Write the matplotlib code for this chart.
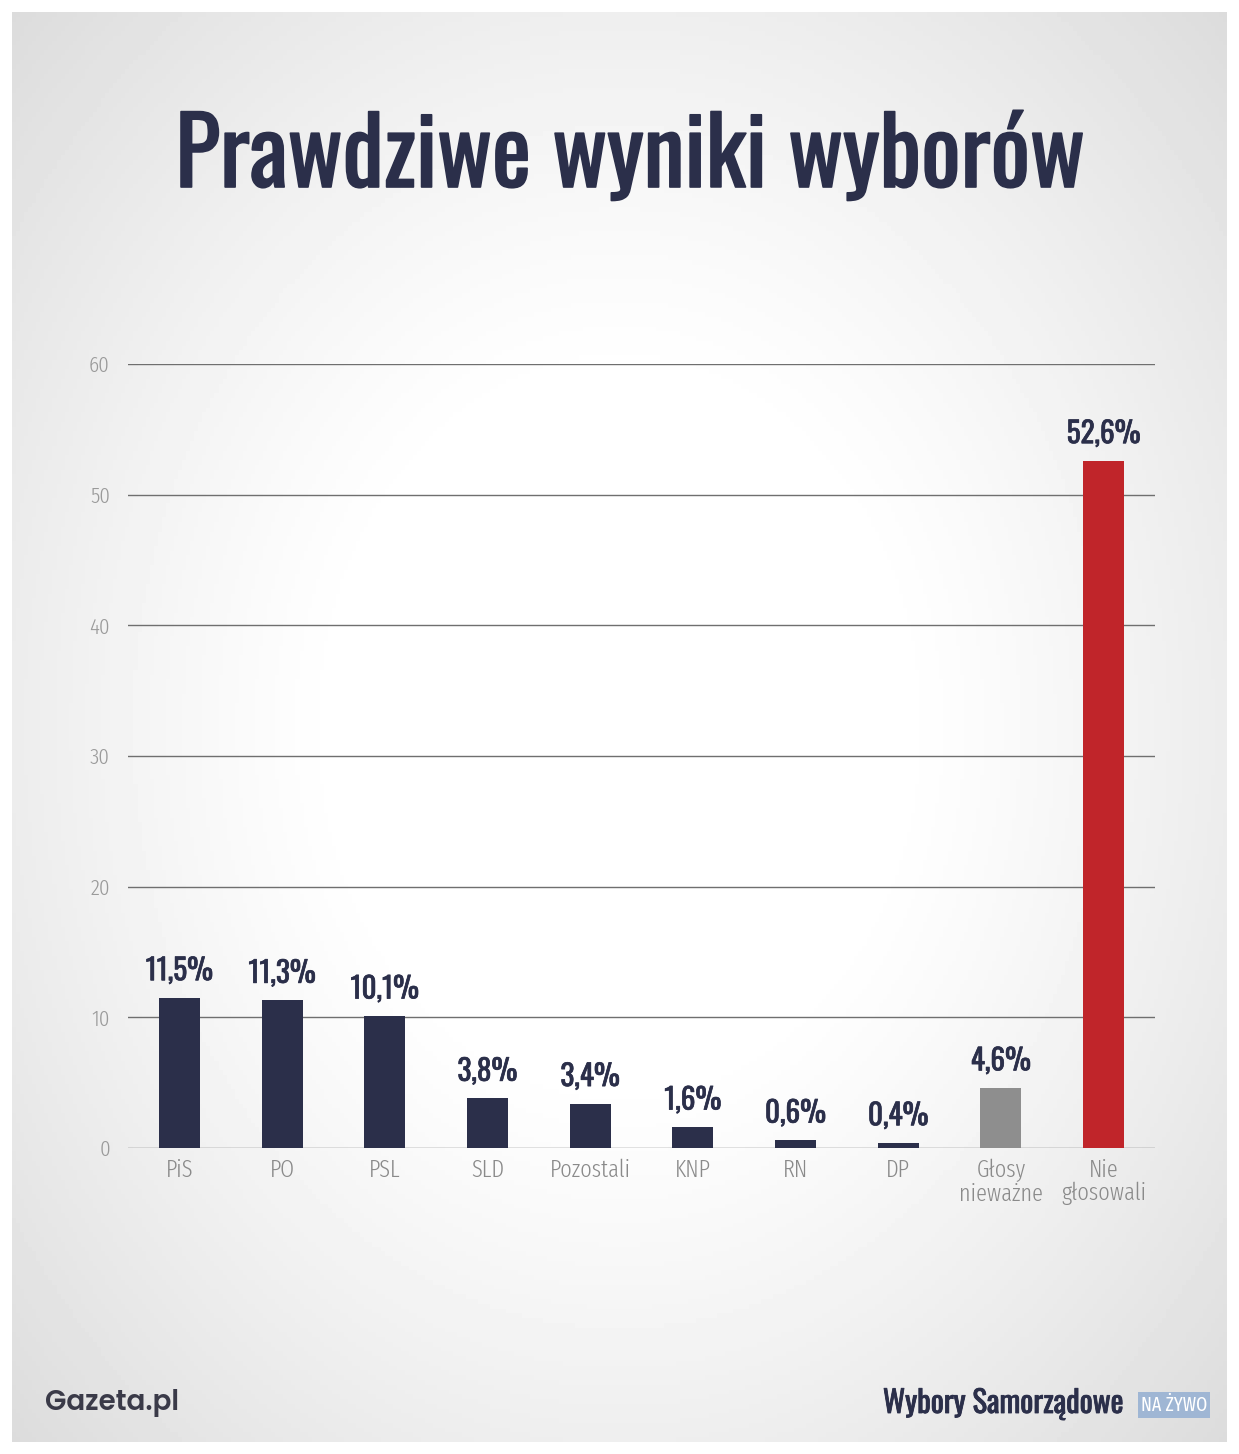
import matplotlib
matplotlib.use("Agg")
import matplotlib.pyplot as plt
import matplotlib.patheffects as pe
import numpy as np

# dane
partie = ["PiS", "PO", "PSL", "SLD", "Pozostali", "KNP", "RN", "DP", "Głosy\nnieważne", "Nie\ngłosowali"]
wyniki = [11.5, 11.3, 10.1, 3.8, 3.4, 1.6, 0.6, 0.4, 4.6, 52.6]
etykiety = ["11,5%", "11,3%", "10,1%", "3,8%", "3,4%", "1,6%", "0,6%", "0,4%", "4,6%", "52,6%"]
kolory = ["#2b2f4a"] * 8 + ["#8e8e8e", "#c0252a"]
y_ticks = [0, 10, 20, 30, 40, 50, 60]

# czcionki (z zapasową DejaVu)
F_TYTUL = ["Oswald", "Roboto Condensed", "DejaVu Sans"]
F_OSIE = ["Fira Sans Extra Condensed", "Roboto Condensed", "DejaVu Sans"]
F_LOGO = ["Poppins", "DejaVu Sans"]
NAVY = "#2b2f4a"


def gruby(w):
    return [pe.Stroke(linewidth=w, foreground=NAVY), pe.Normal()]


fig = plt.figure(figsize=(12.39, 14.54), dpi=100)
fig.patch.set_facecolor("white")

# tło z winietą
bg = fig.add_axes([12 / 1239, 12 / 1454, 1 - 24 / 1239, 1 - 24 / 1454])
yy, xx = np.mgrid[-1:1:300j, -1:1:300j]
r = np.sqrt(xx ** 2 + (yy / 1.05) ** 2)
val = 1.0 - 0.15 * np.clip(r - 0.45, 0, None) ** 1.2
bg.imshow(val, cmap="gray", vmin=0, vmax=1, aspect="auto", extent=[0, 1, 0, 1])
bg.axis("off")

ax = fig.add_axes([128 / 1239, 1 - 1148 / 1454, (1155 - 128) / 1239, (1148 - 364) / 1454])
ax.patch.set_alpha(0)
x = np.arange(len(partie))
ax.bar(x, wyniki, width=0.4, color=kolory, zorder=3)
ax.set_xlim(-0.5, len(partie) - 0.5)
ax.set_ylim(0, 60)
ax.set_yticks(y_ticks)
ax.set_yticklabels([str(t) for t in y_ticks], family=F_OSIE, fontsize=16.5,
                   fontweight=300, color="#9a9a9a")
ax.set_xticks(x)
ax.set_xticklabels(partie, family=F_OSIE, fontsize=17.5, fontweight=300,
                   color="#8a8a8a", linespacing=1.0)
ax.tick_params(axis="y", length=0, pad=13)
ax.tick_params(axis="x", length=0, pad=8)
for s in ax.spines.values():
    s.set_visible(False)
ax.grid(axis="y", color="#6f6f6f", linewidth=1.0, zorder=1)
ax.set_axisbelow(True)

for xi, v, t in zip(x, wyniki, etykiety):
    ax.annotate(t, (xi, v), xytext=(0, 9), textcoords="offset points",
                ha="center", va="bottom", family=F_TYTUL, fontsize=21,
                color=NAVY, path_effects=gruby(0.5))

fig.text(630 / 1239, 1 - 158 / 1454, "Prawdziwe wyniki wyborów", ha="center", va="center",
         family=F_TYTUL, fontsize=67, color=NAVY, path_effects=gruby(1.2))

fig.text(45 / 1239, 1 - 1403 / 1454, "Gazeta.pl", ha="left", va="center",
         family=F_LOGO, fontsize=20, fontweight=600, color="#3a3a48")
fig.text(1124 / 1239, 1 - 1404 / 1454, "Wybory Samorządowe", ha="right", va="center",
         family=F_TYTUL, fontsize=22, color=NAVY, path_effects=gruby(0.6))
fig.text(1174 / 1239, 1 - 1405 / 1454, "NA ŻYWO", ha="center", va="center",
         family=F_OSIE, fontsize=14, color="white",
         bbox=dict(boxstyle="square,pad=0.15", facecolor="#9fb6d4", edgecolor="none"))

fig.savefig("out.png", dpi=100)
